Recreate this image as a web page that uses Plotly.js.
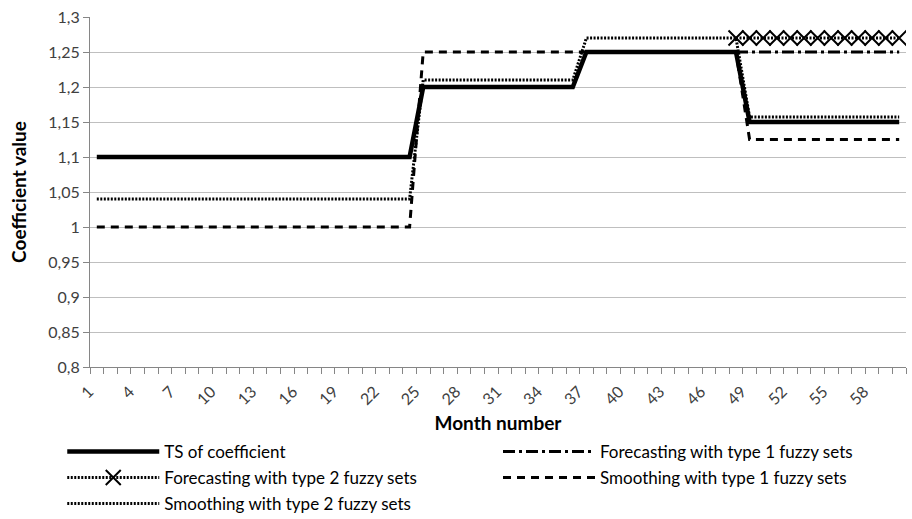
<!DOCTYPE html>
<html>
<head>
<meta charset="utf-8">
<script src="https://cdn.plot.ly/plotly-3.0.1.min.js"></script>
<style>html,body{margin:0;padding:0;background:#fff;}#chart{width:912px;height:519px;}</style>
</head>
<body>
<div id="chart"></div>
<script>
// Data
var months = [1,2,3,4,5,6,7,8,9,10,11,12,13,14,15,16,17,18,19,20,21,22,23,24,25,26,27,28,29,30,31,32,33,34,35,36,37,38,39,40,41,42,43,44,45,46,47,48,49,50,51,52,53,54,55,56,57,58,59,60];
var tsCoef = [1.1,1.1,1.1,1.1,1.1,1.1,1.1,1.1,1.1,1.1,1.1,1.1,1.1,1.1,1.1,1.1,1.1,1.1,1.1,1.1,1.1,1.1,1.1,1.1,
  1.2,1.2,1.2,1.2,1.2,1.2,1.2,1.2,1.2,1.2,1.2,1.2,
  1.25,1.25,1.25,1.25,1.25,1.25,1.25,1.25,1.25,1.25,1.25,1.25,
  1.15,1.15,1.15,1.15,1.15,1.15,1.15,1.15,1.15,1.15,1.15,1.15];
var smooth1 = [1,1,1,1,1,1,1,1,1,1,1,1,1,1,1,1,1,1,1,1,1,1,1,1,
  1.25,1.25,1.25,1.25,1.25,1.25,1.25,1.25,1.25,1.25,1.25,1.25,
  1.25,1.25,1.25,1.25,1.25,1.25,1.25,1.25,1.25,1.25,1.25,1.25,
  1.125,1.125,1.125,1.125,1.125,1.125,1.125,1.125,1.125,1.125,1.125,1.125];
var smooth2 = [1.04,1.04,1.04,1.04,1.04,1.04,1.04,1.04,1.04,1.04,1.04,1.04,1.04,1.04,1.04,1.04,1.04,1.04,1.04,1.04,1.04,1.04,1.04,1.04,
  1.21,1.21,1.21,1.21,1.21,1.21,1.21,1.21,1.21,1.21,1.21,1.21,
  1.27,1.27,1.27,1.27,1.27,1.27,1.27,1.27,1.27,1.27,1.27,1.27,
  1.157,1.157,1.157,1.157,1.157,1.157,1.157,1.157,1.157,1.157,1.157,1.157];
var forecastMonths = [48,49,50,51,52,53,54,55,56,57,58,59,60];
var forecast1 = [1.25,1.25,1.25,1.25,1.25,1.25,1.25,1.25,1.25,1.25,1.25,1.25,1.25];
var forecast2 = [1.27,1.27,1.27,1.27,1.27,1.27,1.27,1.27,1.27,1.27,1.27,1.27,1.27];
var xTickVals = [1,4,7,10,13,16,19,22,25,28,31,34,37,40,43,46,49,52,55,58];
var names = ['TS of coefficient','Forecasting with type 1 fuzzy sets','Forecasting with type 2 fuzzy sets','Smoothing with type 1 fuzzy sets','Smoothing with type 2 fuzzy sets'];

var FONT = 'Lato, "Open Sans", sans-serif';
var traces = [
  {x: months, y: tsCoef, name: names[0], mode: 'lines', line: {color: '#000', width: 4.5}, legend: 'legend'},
  {x: forecastMonths, y: forecast1, name: names[1], mode: 'lines', line: {color: '#000', width: 3, dash: '12px,4px,3px,4px'}, legend: 'legend2'},
  {x: forecastMonths, y: forecast2, name: names[2], mode: 'lines+markers', line: {color: '#000', width: 3, dash: '2px,1.5px'},
   marker: {symbol: 'x-thin', size: 15, color: '#000', line: {color: '#000', width: 2}}, legend: 'legend3'},
  {x: months, y: smooth1, name: names[3], mode: 'lines', line: {color: '#000', width: 3, dash: '8px,6px'}, legend: 'legend4'},
  {x: months, y: smooth2, name: names[4], mode: 'lines', line: {color: '#000', width: 3, dash: '2px,1.5px'}, legend: 'legend5'}
];
// Draw order: put TS on top
var order = [3,4,1,2,0];
var data = order.map(function(i){return traces[i];});

function leg(x, y) {
  return {x: x, y: y, xanchor: 'left', yanchor: 'middle', yref: 'container', itemwidth: 92, bgcolor: 'rgba(0,0,0,0)',
          font: {family: FONT, size: 17, color: '#000'}, traceorder: 'normal'};
}
var layout = {
  width: 912, height: 519,
  margin: {l: 90, r: 6, t: 17, b: 152},
  paper_bgcolor: '#fff', plot_bgcolor: '#fff',
  separators: ', ',
  font: {family: FONT, size: 15, color: '#000'},
  showlegend: true,
  xaxis: {
    range: [0.5, 60.5], tickmode: 'array', tickvals: xTickVals, ticktext: xTickVals.map(String),
    tickangle: -45, ticks: '', showgrid: false, zeroline: false, automargin: false,
    showline: true, linecolor: '#868686', linewidth: 1,
    ticklabelstandoff: 8, ticklabelshift: -8,
    tickfont: {family: FONT, size: 16, color: '#404040'},
    minor: {tick0: 0.5, dtick: 1, ticks: 'outside', ticklen: 6, tickcolor: '#868686', showgrid: false},
    title: {text: 'Month number', font: {family: FONT, size: 19, color: '#000', weight: 'bold'}, standoff: 22}
  },
  yaxis: {
    range: [0.8, 1.3], dtick: 0.05, tick0: 0.8, ticks: 'outside', ticklen: 6, tickcolor: '#868686',
    showgrid: true, gridcolor: '#bfbfbf', gridwidth: 1, zeroline: false, automargin: false,
    showline: true, linecolor: '#868686', linewidth: 1,
    tickfont: {family: FONT, size: 16, color: '#404040'},
    title: {text: 'Coefficient value', font: {family: FONT, size: 19, color: '#000', weight: 'bold'}, standoff: 16}
  },
  legend: leg(-0.034, 0.129),
  legend2: leg(0.5, 0.129),
  legend3: leg(-0.034, 0.079),
  legend4: leg(0.5, 0.079),
  legend5: leg(-0.034, 0.029)
};
Plotly.newPlot('chart', data, layout, {displayModeBar: false, staticPlot: true});
</script>
</body>
</html>
